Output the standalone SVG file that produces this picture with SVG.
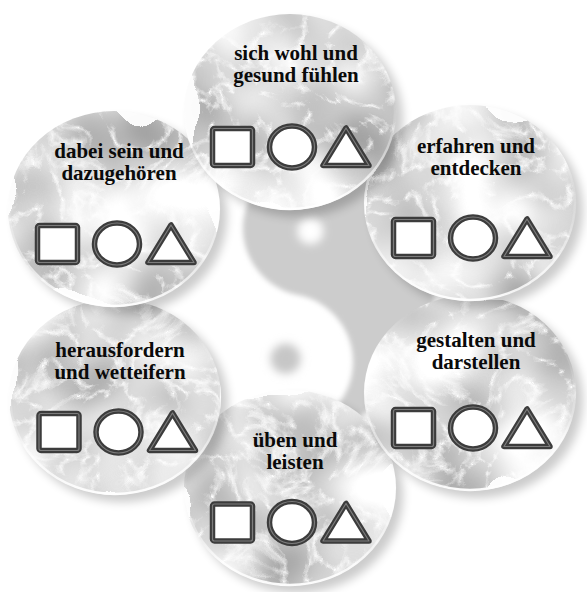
<svg xmlns="http://www.w3.org/2000/svg" xmlns:xlink="http://www.w3.org/1999/xlink" width="587" height="592" viewBox="0 0 587 592">
<style>
.lbl{font-family:"Liberation Serif","Times New Roman",serif;font-weight:bold;font-size:21px;fill:#0a0a0a;text-anchor:middle}
.disc{fill:#fff;filter:url(#marble)}
.shd{fill:#000;opacity:.2;filter:url(#blur)}
.rim{fill:none;stroke:url(#rimg);stroke-width:2.5}
.sh{fill:#fff;stroke:#3c3c3c;stroke-width:5.5;stroke-linejoin:round}
.hl{fill:none;stroke:#7c7c7c;stroke-width:1.2;stroke-linejoin:round}
</style>
<defs>
<filter id="marble" x="0" y="0" width="1" height="1" color-interpolation-filters="sRGB">
<feTurbulence type="fractalNoise" baseFrequency="0.012" numOctaves="2" seed="5" result="n1"/>
<feColorMatrix in="n1" type="matrix" values="0.6 0 0 0 0.56  0.6 0 0 0 0.56  0.6 0 0 0 0.56  0 0 0 0 1" result="base"/>
<feTurbulence type="turbulence" baseFrequency="0.03" numOctaves="4" seed="7" result="n2"/>
<feDisplacementMap in="n2" in2="n1" scale="60" xChannelSelector="R" yChannelSelector="G" result="sw"/>
<feColorMatrix in="sw" type="matrix" values="0 0 0 0 1  0 0 0 0 1  0 0 0 0 1  -3.5 0 0 0 0.95" result="veins"/>
<feMerge result="m"><feMergeNode in="base"/><feMergeNode in="veins"/></feMerge>
<feComposite in="m" in2="SourceAlpha" operator="in"/>
</filter>
<filter id="blur" x="-20%" y="-20%" width="140%" height="140%"><feGaussianBlur stdDeviation="5"/></filter>
<filter id="soft" x="-20%" y="-20%" width="140%" height="140%"><feGaussianBlur stdDeviation="2.5"/></filter>
<filter id="dsoft" x="-50%" y="-50%" width="200%" height="200%"><feGaussianBlur stdDeviation="3.5"/></filter>
<linearGradient id="rimg" x1="0" y1="0" x2="0" y2="1">
<stop offset="0" stop-color="#fff" stop-opacity="0"/>
<stop offset="0.6" stop-color="#fff" stop-opacity="0.2"/>
<stop offset="1" stop-color="#fff" stop-opacity="0.95"/>
</linearGradient>
<g id="shapes">
<rect class="sh" x="-78.5" y="-18.5" width="40" height="37" rx="2"/>
<rect class="hl" x="-78.5" y="-18.5" width="40" height="37" rx="2"/>
<ellipse class="sh" cx="1" cy="0" rx="22.5" ry="21"/>
<ellipse class="hl" cx="1" cy="0" rx="22.5" ry="21"/>
<polygon class="sh" points="55,-19 32,18.5 78,18.5"/>
<polygon class="hl" points="55,-19 32,18.5 78,18.5"/>
</g>
</defs>
<rect width="587" height="592" fill="#fff"/>
<g id="yinyang" transform="translate(298,295) rotate(11)" filter="url(#soft)">
<path d="M0,-136 A136,136 0 0 1 0,136 A68,68 0 0 0 0,0 A68,68 0 0 1 0,-136 Z" fill="#cccccc"/>
<circle cx="0" cy="-65" r="13" fill="#fff" filter="url(#dsoft)"/>
<circle cx="0" cy="65" r="15" fill="#c6c6c6" filter="url(#dsoft)"/>
</g>
<g id="connectors"/>
<g id="node-ueben">
<ellipse class="shd" cx="297" cy="495" rx="106" ry="98"/>
<ellipse class="disc" cx="290" cy="488" rx="106" ry="98"/>
<ellipse class="rim" cx="290" cy="488" rx="105" ry="97"/>
<text class="lbl"><tspan x="295" y="447">üben und</tspan><tspan x="295" y="469">leisten</tspan></text>
<use xlink:href="#shapes" href="#shapes" transform="translate(291,522.5)"/>
</g>
<g id="node-herausfordern">
<ellipse class="shd" cx="122" cy="404" rx="106" ry="98"/>
<ellipse class="disc" cx="115" cy="397" rx="106" ry="98"/>
<ellipse class="rim" cx="115" cy="397" rx="105" ry="97"/>
<text class="lbl"><tspan x="120" y="357">herausfordern</tspan><tspan x="120" y="379">und wetteifern</tspan></text>
<use xlink:href="#shapes" href="#shapes" transform="translate(117.5,432)"/>
</g>
<g id="node-gestalten">
<ellipse class="shd" cx="477" cy="400" rx="106" ry="98"/>
<ellipse class="disc" cx="470" cy="393" rx="106" ry="98"/>
<ellipse class="rim" cx="470" cy="393" rx="105" ry="97"/>
<text class="lbl"><tspan x="476" y="347">gestalten und</tspan><tspan x="476" y="369">darstellen</tspan></text>
<use xlink:href="#shapes" href="#shapes" transform="translate(472,428)"/>
</g>
<g id="node-dabei">
<ellipse class="shd" cx="121" cy="216" rx="106" ry="98"/>
<ellipse class="disc" cx="114" cy="209" rx="106" ry="98"/>
<ellipse class="rim" cx="114" cy="209" rx="105" ry="97"/>
<text class="lbl"><tspan x="119" y="158">dabei sein und</tspan><tspan x="119" y="180">dazugehören</tspan></text>
<use xlink:href="#shapes" href="#shapes" transform="translate(116,244)"/>
</g>
<g id="node-erfahren">
<ellipse class="shd" cx="477" cy="210" rx="106" ry="98"/>
<ellipse class="disc" cx="470" cy="203" rx="106" ry="98"/>
<ellipse class="rim" cx="470" cy="203" rx="105" ry="97"/>
<text class="lbl"><tspan x="476" y="153">erfahren und</tspan><tspan x="476" y="175">entdecken</tspan></text>
<use xlink:href="#shapes" href="#shapes" transform="translate(472,238)"/>
</g>
<g id="node-wohl">
<ellipse class="shd" cx="297" cy="119" rx="106" ry="98"/>
<ellipse class="disc" cx="290" cy="112" rx="106" ry="98"/>
<ellipse class="rim" cx="290" cy="112" rx="105" ry="97"/>
<text class="lbl"><tspan x="296" y="60">sich wohl und</tspan><tspan x="296" y="82">gesund fühlen</tspan></text>
<use xlink:href="#shapes" href="#shapes" transform="translate(291,147)"/>
</g>
</svg>
